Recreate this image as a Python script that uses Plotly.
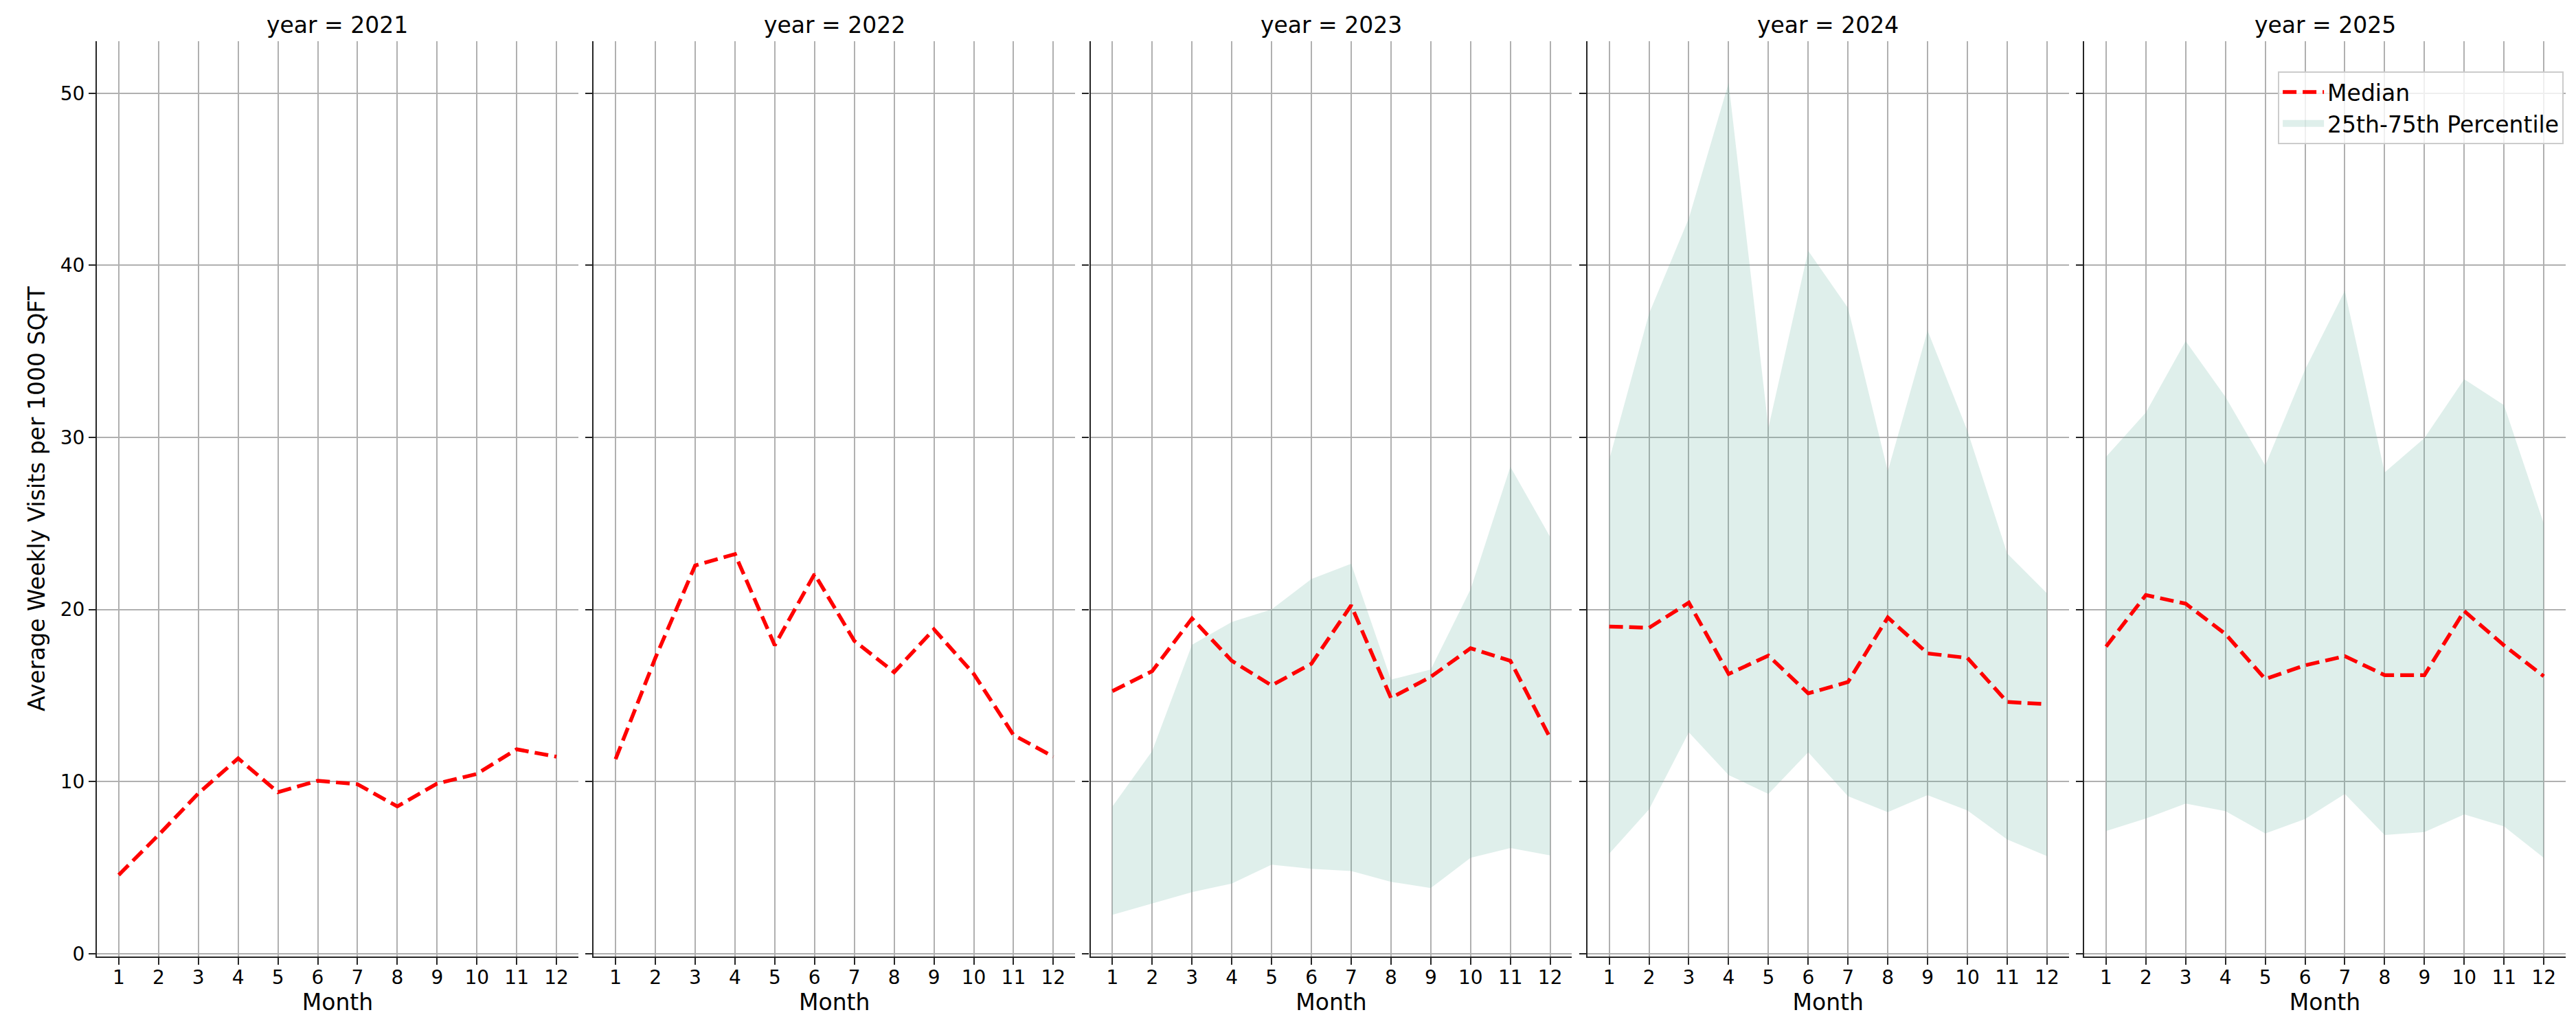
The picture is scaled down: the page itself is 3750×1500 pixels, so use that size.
import plotly.graph_objects as go
from plotly.subplots import make_subplots

# Data
months = list(range(1, 13))
years = [2021, 2022, 2023, 2024, 2025]

median_2021 = [4.58, 6.90, 9.32, 11.35, 9.39, 10.05, 9.85, 8.56, 9.89, 10.45, 11.88, 11.45]
median_2022 = [11.31, 17.19, 22.56, 23.22, 17.92, 22.06, 18.18, 16.36, 18.85, 16.26, 12.71, 11.45]
median_2023 = [15.26, 16.42, 19.48, 17.02, 15.59, 16.85, 20.24, 14.86, 16.09, 17.75, 17.02, 12.54]
median_2024 = [19.01, 18.94, 20.40, 16.26, 17.32, 15.13, 15.79, 19.54, 17.45, 17.19, 14.63, 14.50]
median_2025 = [17.85, 20.84, 20.34, 18.58, 15.96, 16.76, 17.29, 16.19, 16.19, 19.91, 17.92, 16.12]

p25_2023 = [2.26, 2.92, 3.58, 4.08, 5.18, 4.94, 4.81, 4.18, 3.82, 5.57, 6.14, 5.71]
p75_2023 = [8.56, 11.78, 17.95, 19.28, 20.01, 21.77, 22.66, 15.93, 16.52, 21.17, 28.30, 24.22]
p25_2024 = [5.81, 8.39, 12.87, 10.38, 9.29, 11.71, 9.16, 8.23, 9.22, 8.33, 6.64, 5.67]
p75_2024 = [28.70, 37.19, 42.73, 50.60, 30.56, 40.84, 37.52, 28.04, 36.20, 30.39, 23.26, 20.94]
p25_2025 = [7.13, 7.86, 8.73, 8.29, 6.99, 7.83, 9.29, 6.90, 7.07, 8.10, 7.40, 5.57]
p75_2025 = [28.87, 31.45, 35.60, 32.35, 28.37, 33.94, 38.52, 27.97, 29.96, 33.38, 31.88, 24.98]

medians = [median_2021, median_2022, median_2023, median_2024, median_2025]
p25s = [None, None, p25_2023, p25_2024, p25_2025]
p75s = [None, None, p75_2023, p75_2024, p75_2025]

FONT = "DejaVu Sans"
RED = "#ff0000"
FILL = "rgba(105,179,162,0.21)"
GRID = "#b0b0b0"
SPINE = "#262626"

fig = make_subplots(rows=1, cols=5, shared_yaxes=True,
                    horizontal_spacing=0.0062,
                    subplot_titles=[f"year = {y}" for y in years])

for i, year in enumerate(years):
    col = i + 1
    if p25s[i] is not None:
        # lower edge, then upper edge filled down to it
        fig.add_trace(go.Scatter(x=months, y=p25s[i], mode="lines",
                                 line=dict(width=0, color=FILL),
                                 showlegend=False, hoverinfo="skip"),
                      row=1, col=col)
        fig.add_trace(go.Scatter(x=months, y=p75s[i], mode="lines",
                                 fill="tonexty", fillcolor=FILL,
                                 line=dict(width=0, color=FILL),
                                 showlegend=False),
                      row=1, col=col)
    fig.add_trace(go.Scatter(x=months, y=medians[i], mode="lines",
                             line=dict(color=RED, width=5.5, dash="20px,9px"),
                             name="Median", showlegend=(year == 2025)),
                  row=1, col=col)

# legend entry for the band
fig.add_trace(go.Scatter(x=[None], y=[None], mode="lines",
                         line=dict(color=FILL, width=22),
                         name="25th-75th Percentile"),
              row=1, col=5)

fig.update_xaxes(range=[0.45, 12.55], tickvals=months, showgrid=True,
                 gridcolor=GRID, gridwidth=2.2, showline=True, linecolor=SPINE,
                 linewidth=2.2, ticks="outside", ticklen=10, tickwidth=2.2,
                 tickcolor=SPINE, zeroline=False, ticklabelstandoff=-6,
                 tickfont=dict(family=FONT, size=28, color="black"),
                 title=dict(text="Month", standoff=4,
                            font=dict(family=FONT, size=33, color="black")))
fig.update_yaxes(range=[-0.16, 53.02], tickvals=[0, 10, 20, 30, 40, 50],
                 showgrid=True, gridcolor=GRID, gridwidth=2.2, showline=True,
                 linecolor=SPINE, linewidth=2.2, ticks="outside", ticklen=10,
                 tickwidth=2.2, tickcolor=SPINE, zeroline=False,
                 tickfont=dict(family=FONT, size=28, color="black"))
fig.update_yaxes(title=dict(text="Average Weekly Visits per 1000 SQFT", standoff=12,
                            font=dict(family=FONT, size=33, color="black")),
                 row=1, col=1)

for ann in fig.layout.annotations:
    ann.font = dict(family=FONT, size=33, color="black")
    ann.yshift = 2

# page body adds 8px margin, so figure is a bit smaller than the window
fig.update_layout(
    width=3734, height=1484,
    margin=dict(l=133, r=7, t=52, b=99),
    plot_bgcolor="white", paper_bgcolor="white",
    font=dict(family=FONT, color="black"),
    legend=dict(x=0.9992, y=0.967, xanchor="right", yanchor="top",
                traceorder="normal",
                bgcolor="rgba(255,255,255,0.8)", bordercolor="#cccccc",
                borderwidth=2, itemwidth=60,
                font=dict(family=FONT, size=33, color="black")),
)

fig.write_html("out.html")
